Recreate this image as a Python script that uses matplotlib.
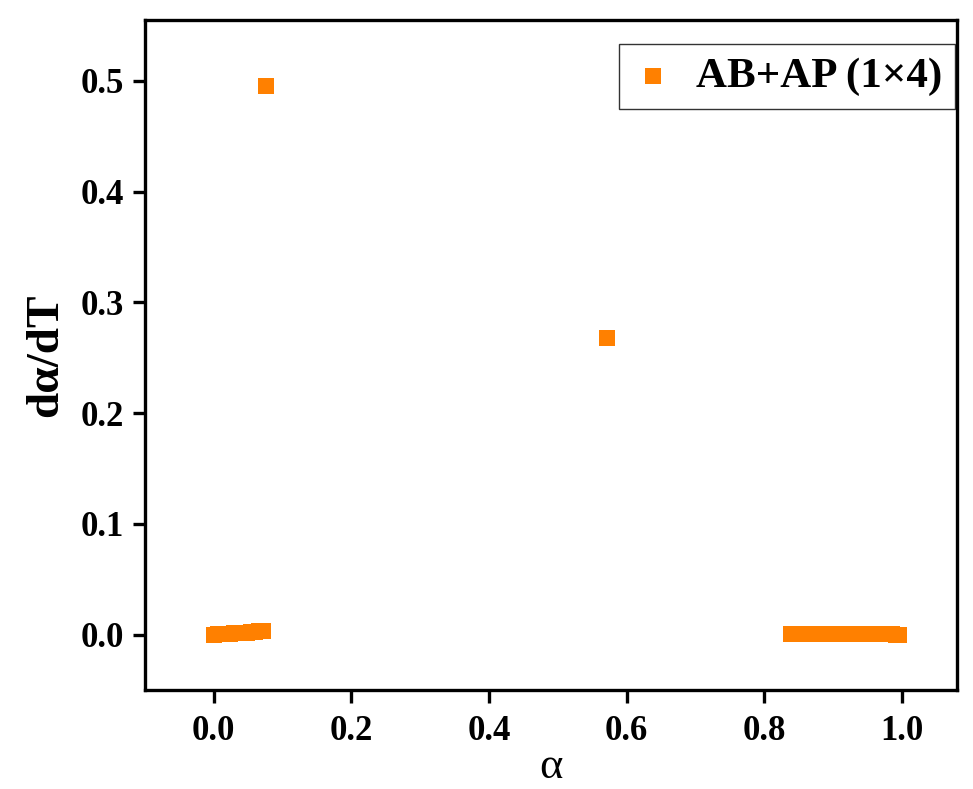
import matplotlib.pyplot as plt

# alpha (conversion) and d(alpha)/dT values
alpha_low = [0.000, 0.006, 0.012, 0.018, 0.024, 0.030, 0.036, 0.042,
             0.048, 0.054, 0.060, 0.066, 0.071]
rate_low = [0.0000, 0.0002, 0.0004, 0.0006, 0.0008, 0.0010, 0.0012, 0.0015,
            0.0018, 0.0021, 0.0025, 0.0030, 0.0036]

alpha_peak = [0.076, 0.572]
rate_peak = [0.495, 0.268]

alpha_high = [0.838, 0.845, 0.852, 0.859, 0.866, 0.873, 0.880, 0.887,
              0.894, 0.901, 0.908, 0.915, 0.922, 0.929, 0.936, 0.943,
              0.950, 0.957, 0.964, 0.971, 0.978, 0.985, 0.992, 0.996]
rate_high = [0.0002, 0.0003, 0.0004, 0.0005, 0.0006, 0.0007, 0.0008, 0.0008,
             0.0009, 0.0009, 0.0009, 0.0009, 0.0008, 0.0008, 0.0007, 0.0007,
             0.0006, 0.0005, 0.0004, 0.0003, 0.0002, 0.0001, 0.0000, 0.0000]

alpha = alpha_low + alpha_peak + alpha_high
rate = rate_low + rate_peak + rate_high

plt.rcParams["font.family"] = "Liberation Serif"
plt.rcParams["font.weight"] = "bold"

fig = plt.figure(figsize=(9.73, 7.89), dpi=100)
ax = fig.add_axes([0.149, 0.1255, 0.8346, 0.8492])

ax.scatter(alpha, rate, marker="s", s=130, color="#FF8000", linewidths=0,
           label="AB+AP (1\u00d74)", zorder=3)

ax.set_xlim(-0.1, 1.08)
ax.set_ylim(-0.05, 0.555)
ax.set_xticks([0.0, 0.2, 0.4, 0.6, 0.8, 1.0])
ax.set_yticks([0.0, 0.1, 0.2, 0.3, 0.4, 0.5])
ax.set_xticklabels(["0.0", "0.2", "0.4", "0.6", "0.8", "1.0"])
ax.set_yticklabels(["0.0", "0.1", "0.2", "0.3", "0.4", "0.5"])

ax.tick_params(direction="out", length=9, width=2.4, labelsize=25)
ax.tick_params(axis="x", pad=9)
ax.tick_params(axis="y", pad=6)
for sp in ax.spines.values():
    sp.set_linewidth(2.4)

ax.set_xlabel("\u03b1", fontsize=32, fontweight="normal", labelpad=-1)
ax.set_ylabel("d\u03b1/dT", fontsize=34, fontweight="bold", labelpad=10)

leg = ax.legend(loc="upper right", fontsize=31, frameon=True, fancybox=False,
                edgecolor="black", markerscale=1.0, handletextpad=0.5,
                handlelength=1.0, borderpad=0.3, borderaxespad=0,
                bbox_to_anchor=(0.998, 0.964))
leg.get_frame().set_linewidth(1.0)

fig.savefig("out.png", dpi=100, facecolor="white")
